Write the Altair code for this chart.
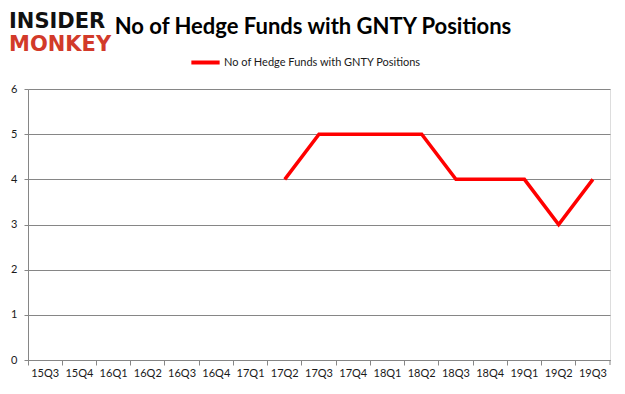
import altair as alt
import pandas as pd

quarters = ["15Q3", "15Q4", "16Q1", "16Q2", "16Q3", "16Q4", "17Q1", "17Q2", "17Q3",
            "17Q4", "18Q1", "18Q2", "18Q3", "18Q4", "19Q1", "19Q2", "19Q3"]
held_quarters = ["17Q2", "17Q3", "17Q4", "18Q1", "18Q2", "18Q3", "18Q4", "19Q1", "19Q2", "19Q3"]
hedge_funds = [4, 5, 5, 5, 5, 4, 4, 4, 3, 4]
series_name = "No of Hedge Funds with GNTY Positions"
chart_title = "No of Hedge Funds with GNTY Positions"
y_ticks = [0, 1, 2, 3, 4, 5, 6]

df = pd.DataFrame({"quarter": held_quarters, "funds": hedge_funds, "series": series_name})
one = pd.DataFrame({"k": [0]})

W, H = 582, 271
GRID = "#868686"
FONT = "Lato"

line = alt.Chart(df).mark_line(strokeWidth=3.5).encode(
    x=alt.X("quarter:N", sort=quarters,
            scale=alt.Scale(type="band", domain=quarters, paddingInner=0, paddingOuter=0),
            axis=alt.Axis(title=None, bandPosition=0, labelAngle=0,
                          tickSize=5, tickColor=GRID, domainColor=GRID, labelPadding=2,
                          labelFont=FONT, labelFontSize=11, labelColor="#1a1a1a",
                          grid=False)),
    y=alt.Y("funds:Q", scale=alt.Scale(domain=[0, 6]),
            axis=alt.Axis(title=None, values=y_ticks, tickSize=4, tickColor=GRID,
                          domainColor=GRID, gridColor=GRID, gridOpacity=1, labelPadding=7,
                          labelFont=FONT, labelFontSize=11, labelColor="#1a1a1a")),
    color=alt.Color("series:N", scale=alt.Scale(range=["#ff0000"]),
                    legend=alt.Legend(title=None, orient="none", legendX=161, legendY=-43,
                                      symbolType="stroke", symbolSize=800, symbolStrokeWidth=4,
                                      labelFont=FONT, labelFontSize=11, labelColor="#1a1a1a",
                                      labelLimit=400, padding=0, labelOffset=2)),
)

right_tick = alt.Chart(one).mark_rule(color=GRID).encode(
    x=alt.value(W), y=alt.value(H), y2=alt.value(H + 5))

title = alt.Chart(one).mark_text(font=FONT, fontSize=22, fontWeight="bold", align="center",
                                 baseline="alphabetic", color="#000000").encode(
    x=alt.value(285), y=alt.value(-55), text=alt.value(chart_title))

logo1 = alt.Chart(one).mark_text(font="DejaVu Sans", fontSize=21, fontWeight="bold",
                                 align="left", baseline="alphabetic", color="#111111").encode(
    x=alt.value(-19), y=alt.value(-61), text=alt.value("INSIDER"))
logo2 = alt.Chart(one).mark_text(font="DejaVu Sans", fontSize=21, fontWeight="bold",
                                 align="left", baseline="alphabetic", color="#d23a2a").encode(
    x=alt.value(-19), y=alt.value(-38), text=alt.value("MONKEY"))

chart = alt.layer(line, right_tick, title, logo1, logo2).properties(
    width=W, height=H,
    autosize=alt.AutoSizeParams(type="none"),
    padding={"left": 20, "top": 81, "right": 7, "bottom": 26},
).configure_view(stroke=None).configure(background="white")

chart.save("out.html", embed_options={"renderer": "svg", "actions": False})
